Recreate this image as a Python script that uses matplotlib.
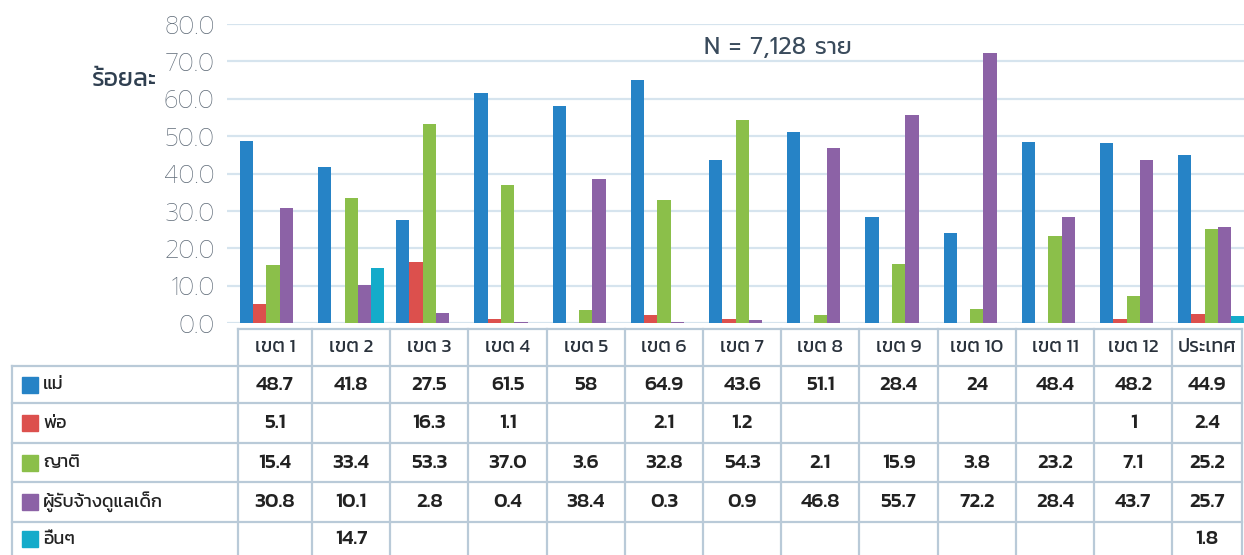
import matplotlib
matplotlib.use("Agg")
import matplotlib.pyplot as plt
import numpy as np

TH = ["Kanit", "DejaVu Sans"]
TICK_FONT = ["Prompt", "DejaVu Sans"]

categories = ["เขต 1", "เขต 2", "เขต 3", "เขต 4", "เขต 5", "เขต 6", "เขต 7",
              "เขต 8", "เขต 9", "เขต 10", "เขต 11", "เขต 12", "ประเทศ"]
series_names = ["แม่", "พ่อ", "ญาติ", "ผู้รับจ้างดูแลเด็ก", "อื่นๆ"]
mother = [48.7, 41.8, 27.5, 61.5, 58, 64.9, 43.6, 51.1, 28.4, 24, 48.4, 48.2, 44.9]
father = [5.1, None, 16.3, 1.1, None, 2.1, 1.2, None, None, None, None, 1, 2.4]
relative = [15.4, 33.4, 53.3, 37.0, 3.6, 32.8, 54.3, 2.1, 15.9, 3.8, 23.2, 7.1, 25.2]
caregiver = [30.8, 10.1, 2.8, 0.4, 38.4, 0.3, 0.9, 46.8, 55.7, 72.2, 28.4, 43.7, 25.7]
other = [None, 14.7, None, None, None, None, None, None, None, None, None, None, 1.8]
yticks = [0, 10, 20, 30, 40, 50, 60, 70, 80]
note = "N = 7,128 ราย"
ylabel = "ร้อยละ"

series = [mother, father, relative, caregiver, other]
colors = ["#2683c6", "#dc504d", "#8bbf4a", "#8c62a6", "#14abca"]

W, H = 1244, 555
fig = plt.figure(figsize=(W / 100, H / 100), dpi=100)
ax = fig.add_axes([227 / W, (H - 323) / H, (W - 227) / W, 299 / H])

x = np.arange(len(categories))
bw = 0.17
for k, (vals, col) in enumerate(zip(series, colors)):
    v = np.array([np.nan if a is None else a for a in vals], dtype=float)
    ax.bar(x + (k - 2) * bw, v, width=bw, color=col, zorder=3)

ax.set_xlim(-0.588, 12.417)
ax.set_ylim(0, 80)
ax.set_yticks(yticks)
ax.set_yticklabels([f"{t:.1f}" for t in yticks], family=TICK_FONT,
                   fontweight="light", fontsize=18, color="#5f6b78")
ax.set_xticks([])
ax.tick_params(axis="y", length=0, pad=9)
ax.grid(axis="y", color="#d6e4ee", linewidth=1.6, zorder=0)
for s in ax.spines.values():
    s.set_visible(False)

fig.text(92 / W, 1 - 80 / H, ylabel, family=TH, fontsize=18, color="#2f3f50",
         ha="left", va="center")
fig.text(778 / W, 1 - 47 / H, note, family=TICK_FONT, fontsize=17,
         color="#3a4b5c", ha="center", va="center")

# table drawn on a pixel overlay
tab = fig.add_axes([0, 0, 1, 1], zorder=5)
tab.set_xlim(0, W)
tab.set_ylim(H, 0)
tab.axis("off")
tab.patch.set_alpha(0)

px = lambda xv: ax.transData.transform((xv, 0))[0]
bounds = [238] + [px(i + 0.5) for i in range(len(categories) - 1)] + [1242]
centers = [(a + b) / 2 for a, b in zip(bounds[:-1], bounds[1:])]
row_lines = [366, 403, 443, 482, 522]
row_mid = [384.5, 423, 462.5, 502, 539]
lc = "#b9cad8"
lw = 1.6

tab.plot([238, 1242], [329, 329], color=lc, lw=lw)
for y in row_lines:
    tab.plot([12, 1242], [y, y], color=lc, lw=lw)
tab.plot([12, 12], [366, H + 5], color=lc, lw=lw)
for b in bounds:
    tab.plot([b, b], [329, H + 5], color=lc, lw=lw)

for c, name in zip(centers, categories):
    tab.text(c, 348, name, family=TH, fontsize=14, color="#2a323c",
             ha="center", va="center")

for r, (vals, col, name) in enumerate(zip(series, colors, series_names)):
    y = row_mid[r]
    tab.add_patch(plt.Rectangle((22, y - 8), 16, 16, color=col))
    tab.text(43, y, name, family=TH, fontsize=13, color="#222",
             ha="left", va="center")
    for c, v in zip(centers, vals):
        if v is not None:
            tab.text(c, y, str(v), family=TH, fontsize=15, fontweight="medium",
                     color="#222", ha="center", va="center")

fig.savefig("out.png", dpi=100)
